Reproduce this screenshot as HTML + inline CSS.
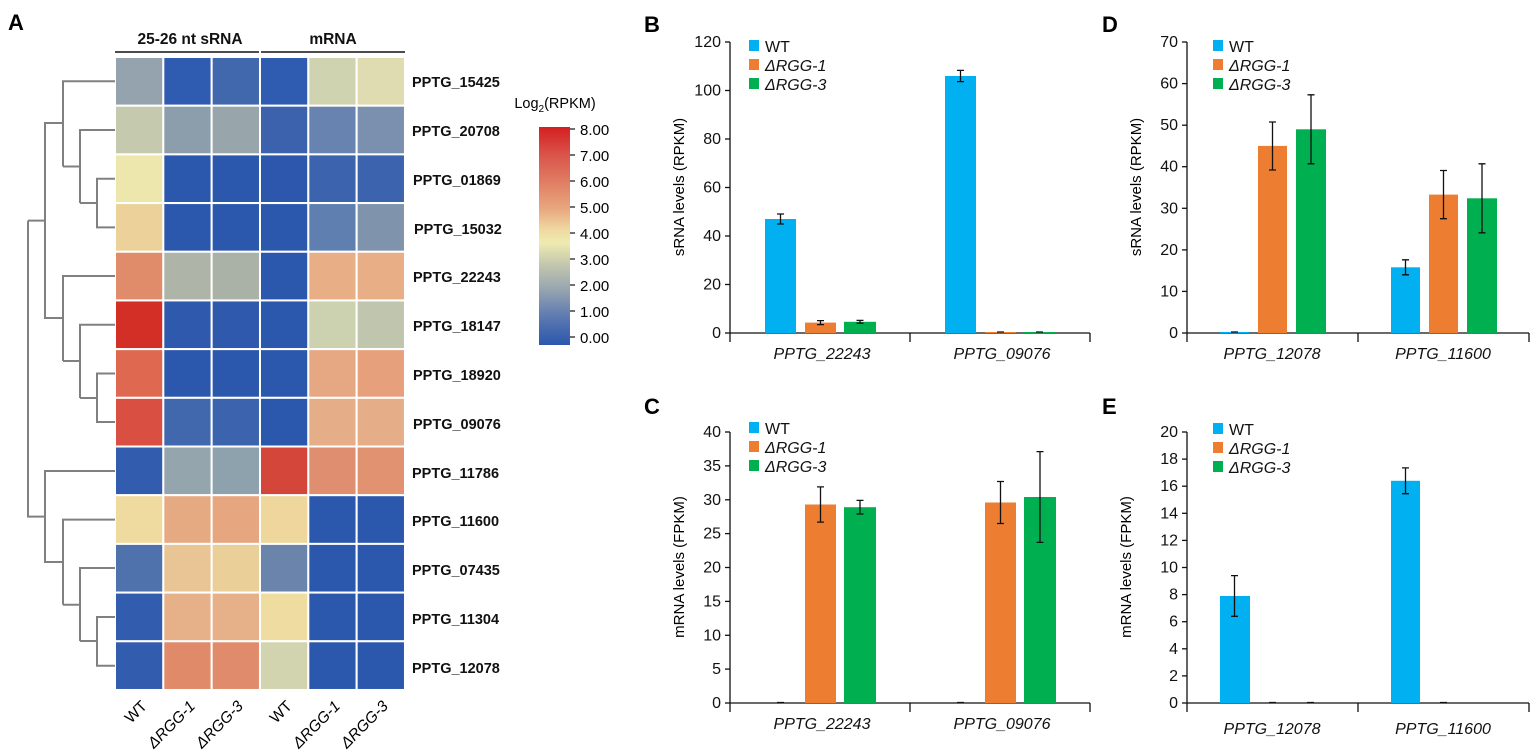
<!DOCTYPE html>
<html><head><meta charset="utf-8"><style>
html,body{margin:0;padding:0;background:#fff;}
svg{display:block;font-family:"Liberation Sans",Arial,sans-serif;}
.lab{font-size:14.5px;font-weight:bold;fill:#111;}
.tk{font-size:16px;fill:#111;}
.it{font-style:italic;}
.yl{font-size:15px;}
</style></head><body>
<svg width="1535" height="755" viewBox="0 0 1535 755" xmlns="http://www.w3.org/2000/svg">
<defs>
<linearGradient id="cb" x1="0" y1="0" x2="0" y2="1">
<stop offset="0" stop-color="#d41f1f"/>
<stop offset="0.125" stop-color="#d9534a"/>
<stop offset="0.25" stop-color="#e07c62"/>
<stop offset="0.375" stop-color="#e8a77e"/>
<stop offset="0.47" stop-color="#efd8a0"/>
<stop offset="0.53" stop-color="#efebb0"/>
<stop offset="0.625" stop-color="#c6c9ae"/>
<stop offset="0.75" stop-color="#95a3b0"/>
<stop offset="0.875" stop-color="#5b78b0"/>
<stop offset="1" stop-color="#2b57ad"/>
</linearGradient>
</defs>

<text x="8" y="30" style="font-size:22px;font-weight:bold">A</text>
<text x="190" y="44" text-anchor="middle" class="lab" style="font-size:15.5px">25-26 nt sRNA</text>
<text x="333" y="44" text-anchor="middle" class="lab" style="font-size:15.5px">mRNA</text>
<line x1="115" y1="52" x2="259" y2="52" stroke="#111" stroke-width="1.5"/>
<line x1="261" y1="52" x2="405" y2="52" stroke="#111" stroke-width="1.5"/>

<g id="heat" stroke="#fff" stroke-width="2"></g>

<g stroke="#808080" stroke-width="2" fill="none">
<path d="M115 178.7H97V227.4H115"/>
<path d="M97 203H80"/>
<path d="M115 130H80V203"/>
<path d="M80 166.5H63"/>
<path d="M115 81.3H63V166.5"/>
<path d="M115 373.5H97V422H115"/>
<path d="M97 398H80"/>
<path d="M115 324.8H80V398"/>
<path d="M80 361H63"/>
<path d="M115 276H63V361"/>
<path d="M63 123H45V318H63"/>
<path d="M45 220.6H28"/>
<path d="M115 617H97V665.8H115"/>
<path d="M97 641H80"/>
<path d="M115 568H80V641"/>
<path d="M80 604.7H63"/>
<path d="M115 519.6H63V604.7"/>
<path d="M115 471H45V562H63"/>
<path d="M45 516.6H28V220.6"/>
</g>

<g class="lab">
<text x="412" y="87">PPTG_15425</text>
<text x="412" y="136">PPTG_20708</text>
<text x="413" y="185">PPTG_01869</text>
<text x="414" y="234">PPTG_15032</text>
<text x="413" y="282">PPTG_22243</text>
<text x="413" y="331">PPTG_18147</text>
<text x="413" y="380">PPTG_18920</text>
<text x="413" y="429">PPTG_09076</text>
<text x="412" y="478">PPTG_11786</text>
<text x="412" y="526">PPTG_11600</text>
<text x="412" y="575">PPTG_07435</text>
<text x="412" y="624">PPTG_11304</text>
<text x="412" y="673">PPTG_12078</text>
</g>
<g style="font-size:15.5px" text-anchor="end">
<text transform="translate(148,707) rotate(-45)">WT</text>
<text class="it" transform="translate(196,707) rotate(-45)">ΔRGG-1</text>
<text class="it" transform="translate(244,707) rotate(-45)">ΔRGG-3</text>
<text transform="translate(293,707) rotate(-45)">WT</text>
<text class="it" transform="translate(341,707) rotate(-45)">ΔRGG-1</text>
<text class="it" transform="translate(389,707) rotate(-45)">ΔRGG-3</text>
</g>

<text x="555" y="108" text-anchor="middle" style="font-size:14.5px">Log<tspan font-size="10" dy="4">2</tspan><tspan dy="-4">(RPKM)</tspan></text>
<rect x="539" y="127" width="31" height="218" fill="url(#cb)"/>
<g stroke="#111" stroke-width="1.2">
<line x1="570" y1="129" x2="575" y2="129"/><line x1="570" y1="155" x2="575" y2="155"/>
<line x1="570" y1="181" x2="575" y2="181"/><line x1="570" y1="207" x2="575" y2="207"/>
<line x1="570" y1="233" x2="575" y2="233"/><line x1="570" y1="259" x2="575" y2="259"/>
<line x1="570" y1="285" x2="575" y2="285"/><line x1="570" y1="311" x2="575" y2="311"/>
<line x1="570" y1="337" x2="575" y2="337"/>
</g>
<g style="font-size:15px">
<text x="580" y="135">8.00</text><text x="580" y="161">7.00</text><text x="580" y="187">6.00</text>
<text x="580" y="213">5.00</text><text x="580" y="239">4.00</text><text x="580" y="265">3.00</text>
<text x="580" y="291">2.00</text><text x="580" y="317">1.00</text><text x="580" y="343">0.00</text>
</g>

<!-- Panel B -->
<text x="644" y="32" style="font-size:22px;font-weight:bold">B</text>
<g stroke="#111" stroke-width="1.3">
<line x1="730" y1="42" x2="730" y2="342"/><line x1="730" y1="333" x2="1090" y2="333"/>
<line x1="910" y1="333" x2="910" y2="342"/><line x1="1090" y1="333" x2="1090" y2="342"/>
<line x1="725" y1="333" x2="730" y2="333"/><line x1="725" y1="284.5" x2="730" y2="284.5"/>
<line x1="725" y1="236" x2="730" y2="236"/><line x1="725" y1="187.5" x2="730" y2="187.5"/>
<line x1="725" y1="139" x2="730" y2="139"/><line x1="725" y1="90.5" x2="730" y2="90.5"/>
<line x1="725" y1="42" x2="730" y2="42"/>
</g>
<g class="tk" text-anchor="end">
<text x="721" y="338">0</text><text x="721" y="289.5">20</text><text x="721" y="241">40</text>
<text x="721" y="192.5">60</text><text x="721" y="144">80</text><text x="721" y="95.5">100</text><text x="721" y="47">120</text>
</g>
<text transform="translate(684,187) rotate(-90)" text-anchor="middle" class="yl">sRNA levels (RPKM)</text>
<rect x="765" y="219" width="31" height="114" fill="#00b0f0"/>
<rect x="805" y="322.6" width="31" height="10.4" fill="#ed7d31"/>
<rect x="844" y="321.8" width="32" height="11.2" fill="#00b050"/>
<rect x="945" y="76" width="31" height="257" fill="#00b0f0"/>
<rect x="985" y="332" width="31" height="1" fill="#ed7d31"/>
<rect x="1024" y="332" width="32" height="1" fill="#00b050"/>
<g stroke="#111" stroke-width="1.3">
<path d="M780.5 214V224M777 214H784M777 224H784"/>
<path d="M820.5 320.6V324.6M817 320.6H824M817 324.6H824"/>
<path d="M860 320.4V323.2M856.5 320.4H863.5M856.5 323.2H863.5"/>
<path d="M960.5 70.4V81.6M957 70.4H964M957 81.6H964"/>
<path d="M997 332H1004M1036 332H1043"/>
</g>
<text x="822" y="359" text-anchor="middle" class="tk it">PPTG_22243</text>
<text x="1002" y="359" text-anchor="middle" class="tk it">PPTG_09076</text>
<rect x="749" y="40" width="10" height="11" fill="#00b0f0"/>
<rect x="749" y="59" width="10" height="11" fill="#ed7d31"/>
<rect x="749" y="78" width="10" height="11" fill="#00b050"/>
<text x="765" y="52" class="tk">WT</text>
<text x="765" y="71" class="tk it">ΔRGG-1</text>
<text x="765" y="90" class="tk it">ΔRGG-3</text>

<!-- Panel D -->
<text x="1102" y="32" style="font-size:22px;font-weight:bold">D</text>
<g stroke="#111" stroke-width="1.3">
<line x1="1187" y1="42" x2="1187" y2="342"/><line x1="1187" y1="333" x2="1529" y2="333"/>
<line x1="1358" y1="333" x2="1358" y2="342"/><line x1="1529" y1="333" x2="1529" y2="342"/>
<line x1="1182" y1="333" x2="1187" y2="333"/><line x1="1182" y1="291.4" x2="1187" y2="291.4"/>
<line x1="1182" y1="249.9" x2="1187" y2="249.9"/><line x1="1182" y1="208.3" x2="1187" y2="208.3"/>
<line x1="1182" y1="166.7" x2="1187" y2="166.7"/><line x1="1182" y1="125.2" x2="1187" y2="125.2"/>
<line x1="1182" y1="83.6" x2="1187" y2="83.6"/><line x1="1182" y1="42" x2="1187" y2="42"/>
</g>
<g class="tk" text-anchor="end">
<text x="1178" y="338">0</text><text x="1178" y="296.4">10</text><text x="1178" y="254.9">20</text>
<text x="1178" y="213.3">30</text><text x="1178" y="171.7">40</text><text x="1178" y="130.2">50</text>
<text x="1178" y="88.6">60</text><text x="1178" y="47">70</text>
</g>
<text transform="translate(1141,187) rotate(-90)" text-anchor="middle" class="yl">sRNA levels (RPKM)</text>
<rect x="1220" y="332" width="29" height="1" fill="#00b0f0"/>
<rect x="1258" y="145.9" width="29" height="187.1" fill="#ed7d31"/>
<rect x="1296" y="129.3" width="30" height="203.7" fill="#00b050"/>
<rect x="1391" y="267.3" width="29" height="65.7" fill="#00b0f0"/>
<rect x="1429" y="194.6" width="29" height="138.4" fill="#ed7d31"/>
<rect x="1467" y="198.3" width="30" height="134.7" fill="#00b050"/>
<g stroke="#111" stroke-width="1.3">
<path d="M1231 332H1238"/>
<path d="M1272.5 122V170M1269 122H1276M1269 170H1276"/>
<path d="M1311 94.8V163.8M1307.5 94.8H1314.5M1307.5 163.8H1314.5"/>
<path d="M1405.5 259.8V274.8M1402 259.8H1409M1402 274.8H1409"/>
<path d="M1443.5 170.5V218.7M1440 170.5H1447M1440 218.7H1447"/>
<path d="M1482 163.8V232.8M1478.5 163.8H1485.5M1478.5 232.8H1485.5"/>
</g>
<text x="1272" y="359" text-anchor="middle" class="tk it">PPTG_12078</text>
<text x="1443" y="359" text-anchor="middle" class="tk it">PPTG_11600</text>
<rect x="1213" y="40" width="10" height="11" fill="#00b0f0"/>
<rect x="1213" y="59" width="10" height="11" fill="#ed7d31"/>
<rect x="1213" y="78" width="10" height="11" fill="#00b050"/>
<text x="1229" y="52" class="tk">WT</text>
<text x="1229" y="71" class="tk it">ΔRGG-1</text>
<text x="1229" y="90" class="tk it">ΔRGG-3</text>

<!-- Panel C -->
<text x="644" y="414" style="font-size:22px;font-weight:bold">C</text>
<g stroke="#111" stroke-width="1.3">
<line x1="730" y1="432" x2="730" y2="712"/><line x1="730" y1="703" x2="1090" y2="703"/>
<line x1="910" y1="703" x2="910" y2="712"/><line x1="1090" y1="703" x2="1090" y2="712"/>
<line x1="725" y1="703" x2="730" y2="703"/><line x1="725" y1="669.1" x2="730" y2="669.1"/>
<line x1="725" y1="635.3" x2="730" y2="635.3"/><line x1="725" y1="601.4" x2="730" y2="601.4"/>
<line x1="725" y1="567.5" x2="730" y2="567.5"/><line x1="725" y1="533.6" x2="730" y2="533.6"/>
<line x1="725" y1="499.8" x2="730" y2="499.8"/><line x1="725" y1="465.9" x2="730" y2="465.9"/>
<line x1="725" y1="432" x2="730" y2="432"/>
</g>
<g class="tk" text-anchor="end">
<text x="721" y="708">0</text><text x="721" y="674.1">5</text><text x="721" y="640.3">10</text>
<text x="721" y="606.4">15</text><text x="721" y="572.5">20</text><text x="721" y="538.6">25</text>
<text x="721" y="504.8">30</text><text x="721" y="470.9">35</text><text x="721" y="437">40</text>
</g>
<text transform="translate(684,567) rotate(-90)" text-anchor="middle" class="yl">mRNA levels (FPKM)</text>
<rect x="805" y="504.5" width="31" height="198.5" fill="#ed7d31"/>
<rect x="844" y="507.2" width="32" height="195.8" fill="#00b050"/>
<rect x="985" y="502.5" width="31" height="200.5" fill="#ed7d31"/>
<rect x="1024" y="497" width="32" height="206" fill="#00b050"/>
<g stroke="#111" stroke-width="1.3">
<path d="M777 702.5H784M957 702.5H964"/>
<path d="M820.5 486.9V522.1M817 486.9H824M817 522.1H824"/>
<path d="M860 500.4V514M856.5 500.4H863.5M856.5 514H863.5"/>
<path d="M1000.5 481.5V523.5M997 481.5H1004M997 523.5H1004"/>
<path d="M1040 451.6V542.4M1036.5 451.6H1043.5M1036.5 542.4H1043.5"/>
</g>
<text x="822" y="729" text-anchor="middle" class="tk it">PPTG_22243</text>
<text x="1002" y="729" text-anchor="middle" class="tk it">PPTG_09076</text>
<rect x="749" y="422" width="10" height="11" fill="#00b0f0"/>
<rect x="749" y="441" width="10" height="11" fill="#ed7d31"/>
<rect x="749" y="460" width="10" height="11" fill="#00b050"/>
<text x="765" y="434" class="tk">WT</text>
<text x="765" y="453" class="tk it">ΔRGG-1</text>
<text x="765" y="472" class="tk it">ΔRGG-3</text>

<!-- Panel E -->
<text x="1102" y="414" style="font-size:22px;font-weight:bold">E</text>
<g stroke="#111" stroke-width="1.3">
<line x1="1187" y1="432" x2="1187" y2="712"/><line x1="1187" y1="703" x2="1529" y2="703"/>
<line x1="1358" y1="703" x2="1358" y2="712"/><line x1="1529" y1="703" x2="1529" y2="712"/>
<line x1="1182" y1="703" x2="1187" y2="703"/><line x1="1182" y1="675.9" x2="1187" y2="675.9"/>
<line x1="1182" y1="648.8" x2="1187" y2="648.8"/><line x1="1182" y1="621.7" x2="1187" y2="621.7"/>
<line x1="1182" y1="594.6" x2="1187" y2="594.6"/><line x1="1182" y1="567.5" x2="1187" y2="567.5"/>
<line x1="1182" y1="540.4" x2="1187" y2="540.4"/><line x1="1182" y1="513.3" x2="1187" y2="513.3"/>
<line x1="1182" y1="486.2" x2="1187" y2="486.2"/><line x1="1182" y1="459.1" x2="1187" y2="459.1"/>
<line x1="1182" y1="432" x2="1187" y2="432"/>
</g>
<g class="tk" text-anchor="end">
<text x="1178" y="708">0</text><text x="1178" y="680.9">2</text><text x="1178" y="653.8">4</text>
<text x="1178" y="626.7">6</text><text x="1178" y="599.6">8</text><text x="1178" y="572.5">10</text>
<text x="1178" y="545.4">12</text><text x="1178" y="518.3">14</text><text x="1178" y="491.2">16</text>
<text x="1178" y="464.1">18</text><text x="1178" y="437">20</text>
</g>
<text transform="translate(1131,567) rotate(-90)" text-anchor="middle" class="yl">mRNA levels (FPKM)</text>
<rect x="1220" y="596" width="30" height="107" fill="#00b0f0"/>
<rect x="1391" y="480.8" width="29" height="222.2" fill="#00b0f0"/>
<g stroke="#111" stroke-width="1.3">
<path d="M1234.5 575.6V616.3M1231 575.6H1238M1231 616.3H1238"/>
<path d="M1405.5 467.9V493.7M1402 467.9H1409M1402 493.7H1409"/>
<path d="M1269 702.5H1276M1307 702.5H1314M1440 702.5H1447"/>
</g>
<text x="1272" y="734" text-anchor="middle" class="tk it">PPTG_12078</text>
<text x="1443" y="734" text-anchor="middle" class="tk it">PPTG_11600</text>
<rect x="1213" y="423" width="10" height="11" fill="#00b0f0"/>
<rect x="1213" y="442" width="10" height="11" fill="#ed7d31"/>
<rect x="1213" y="461" width="10" height="11" fill="#00b050"/>
<text x="1229" y="435" class="tk">WT</text>
<text x="1229" y="454" class="tk it">ΔRGG-1</text>
<text x="1229" y="473" class="tk it">ΔRGG-3</text>
</svg>
<script>
var C=[
["#94a3ad","#2f5bb0","#4167ad","#2f5bb0","#d0d3b0","#dedcb0"],
["#c5c9ad","#8c9eab","#98a5ab","#3c61ad","#6883b0","#7a90ae"],
["#ede6ad","#2b57ad","#2b57ad","#2c57ad","#3c63ae","#3c63ae"],
["#ecd29a","#2b57ad","#2b57ad","#2b57ad","#5e7fb0","#8093ad"],
["#e08b6a","#aeb5a8","#aab2a8","#2b57ad","#e8ae85","#e8ae85"],
["#d42f27","#2e59ad","#2e59ad","#2b57ad","#ccd1b0","#c0c6ae"],
["#de6850","#2b57ad","#2b57ad","#2b57ad","#e6a783","#e6a07c"],
["#d94f42","#4167ad","#3c63ae","#2b57ad","#e6ae88","#e6ae88"],
["#325cad","#95a5ae","#8ea2ae","#d4463a","#e08e70","#e19270"],
["#efdaa0","#e6aa82","#e6a680","#eed69c","#2b57ad","#2b57ad"],
["#4f72ad","#e9c595","#ead098","#6b84ab","#2b57ad","#2b57ad"],
["#325cad","#e6b088","#e6b088","#efdca0","#2b57ad","#2b57ad"],
["#325cad","#e08a6a","#e08c6c","#d2d4b0","#2b57ad","#2b57ad"]];
var g=document.getElementById("heat"),ns="http://www.w3.org/2000/svg";
for(var r=0;r<13;r++)for(var c=0;c<6;c++){var e=document.createElementNS(ns,"rect");
e.setAttribute("x",115+c*48.33);e.setAttribute("y",57+r*48.69);e.setAttribute("width",48.33);e.setAttribute("height",48.69);e.setAttribute("fill",C[r][c]);g.appendChild(e);}
</script>
</body></html>
